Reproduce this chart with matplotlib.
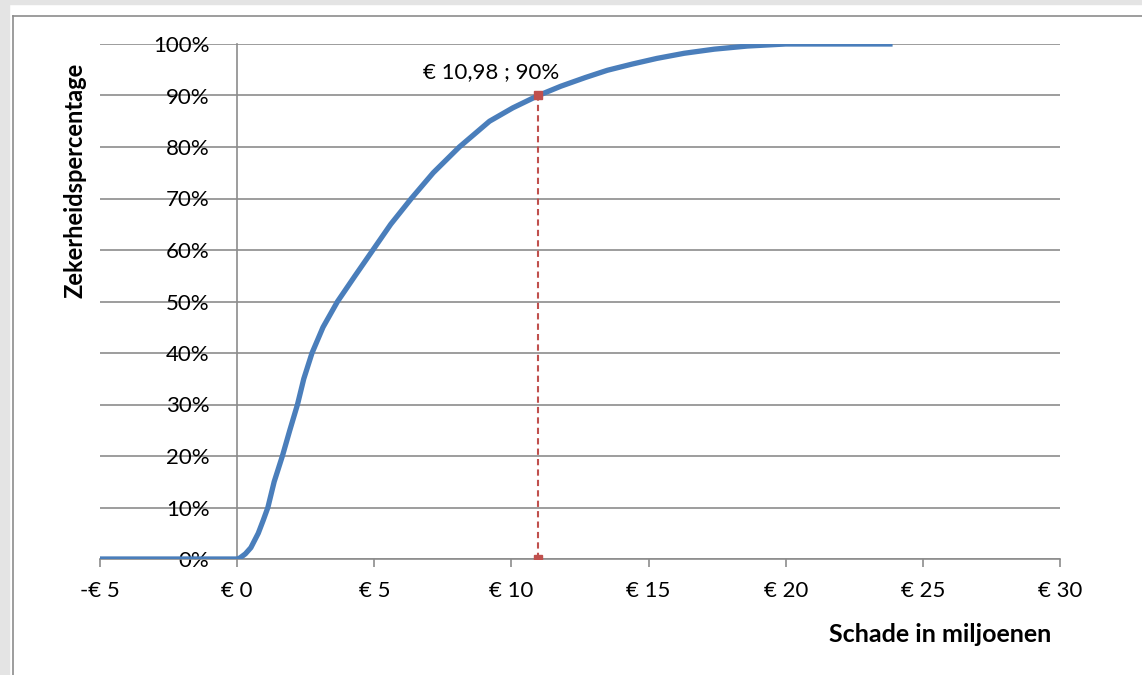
import matplotlib.pyplot as plt
from matplotlib.lines import Line2D
from matplotlib.patches import Rectangle

plt.rcParams['font.family'] = ['Lato', 'DejaVu Sans']

# schade (miljoenen euro) en cumulatief zekerheidspercentage
schade = [-5, 0.0, 0.1, 0.3, 0.5, 0.77, 0.95, 1.12, 1.35, 1.65, 1.92, 2.20, 2.43,
          2.73, 3.13, 3.66, 4.30, 4.95, 5.60, 6.35, 7.15, 8.10, 9.20, 10.05, 10.98,
          11.8, 12.7, 13.5, 14.4, 15.3, 16.3, 17.4, 18.6, 20.0, 23.8]
zekerheid = [0, 0, 0.2, 1.0, 2.2, 5, 7.5, 10, 15, 20, 25, 30, 35,
             40, 45, 50, 55, 60, 65, 70, 75, 80, 85, 87.6, 90,
             91.8, 93.5, 94.9, 96.1, 97.2, 98.2, 99.0, 99.6, 100, 100]

p90_x = 10.98
p90_y = 90
xticks = [-5, 0, 5, 10, 15, 20, 25, 30]
xlabels = ['-€ 5', '€ 0', '€ 5', '€ 10', '€ 15', '€ 20', '€ 25', '€ 30']
yticks = list(range(0, 101, 10))

grey = '#8c8c8c'
fs = 16

fig = plt.figure(figsize=(11.42, 6.75), dpi=100)
ax = fig.add_axes([100 / 1142, 1 - 559 / 675, 960 / 1142, 515 / 675])

# outer frame like the Excel screenshot
fig.patches.append(Rectangle((0, 1 - 4 / 675), 1, 4 / 675, transform=fig.transFigure,
                             color='#e4e4e4', zorder=0))
fig.patches.append(Rectangle((0, 0), 9 / 1142, 1, transform=fig.transFigure,
                             color='#e4e4e4', zorder=0))
fig.lines.append(Line2D([13 / 1142, 1], [1 - 16 / 675, 1 - 16 / 675],
                        transform=fig.transFigure, color=grey, lw=1.2))
fig.lines.append(Line2D([13 / 1142, 13 / 1142], [0, 1 - 16 / 675],
                        transform=fig.transFigure, color=grey, lw=1.2))

for s in ['top', 'right']:
    ax.spines[s].set_visible(False)
ax.spines['left'].set_position(('data', 0))
ax.spines['left'].set_color(grey)
ax.spines['left'].set_linewidth(1.2)
ax.spines['bottom'].set_color(grey)
ax.spines['bottom'].set_linewidth(1.2)

ax.plot(schade, zekerheid, color='#4a7ebb', lw=3.8, solid_joinstyle='round', zorder=3)
ax.plot([p90_x, p90_x], [0, p90_y], color='#c0504d', lw=1.5, ls=(0, (3, 2)),
        marker='s', markersize=6, zorder=4)
ax.text(9.25, 94.6, '€ 10,98 ; 90%', ha='center', va='center', fontsize=fs, zorder=5)

ax.set_xlim(-5, 30)
ax.set_ylim(0, 100)
ax.set_xticks(xticks)
ax.set_xticklabels(xlabels)
ax.set_yticks(yticks)
ax.set_yticklabels([f'{v}%' for v in yticks])
ax.yaxis.grid(True, color=grey, lw=1.2)
ax.set_axisbelow(True)
ax.tick_params(axis='y', length=0, pad=20, labelsize=fs)
ax.tick_params(axis='x', length=6, width=1.2, color=grey, pad=10, labelsize=fs)

fig.text(75 / 1142, 1 - 180 / 675, 'Zekerheidspercentage', rotation=90, ha='center',
         va='center', fontsize=fs + 1, fontweight='bold')
fig.text(940 / 1142, 1 - 635 / 675, 'Schade in miljoenen', ha='center', va='center',
         fontsize=fs + 2, fontweight='bold')

fig.savefig('out.png', dpi=100)
